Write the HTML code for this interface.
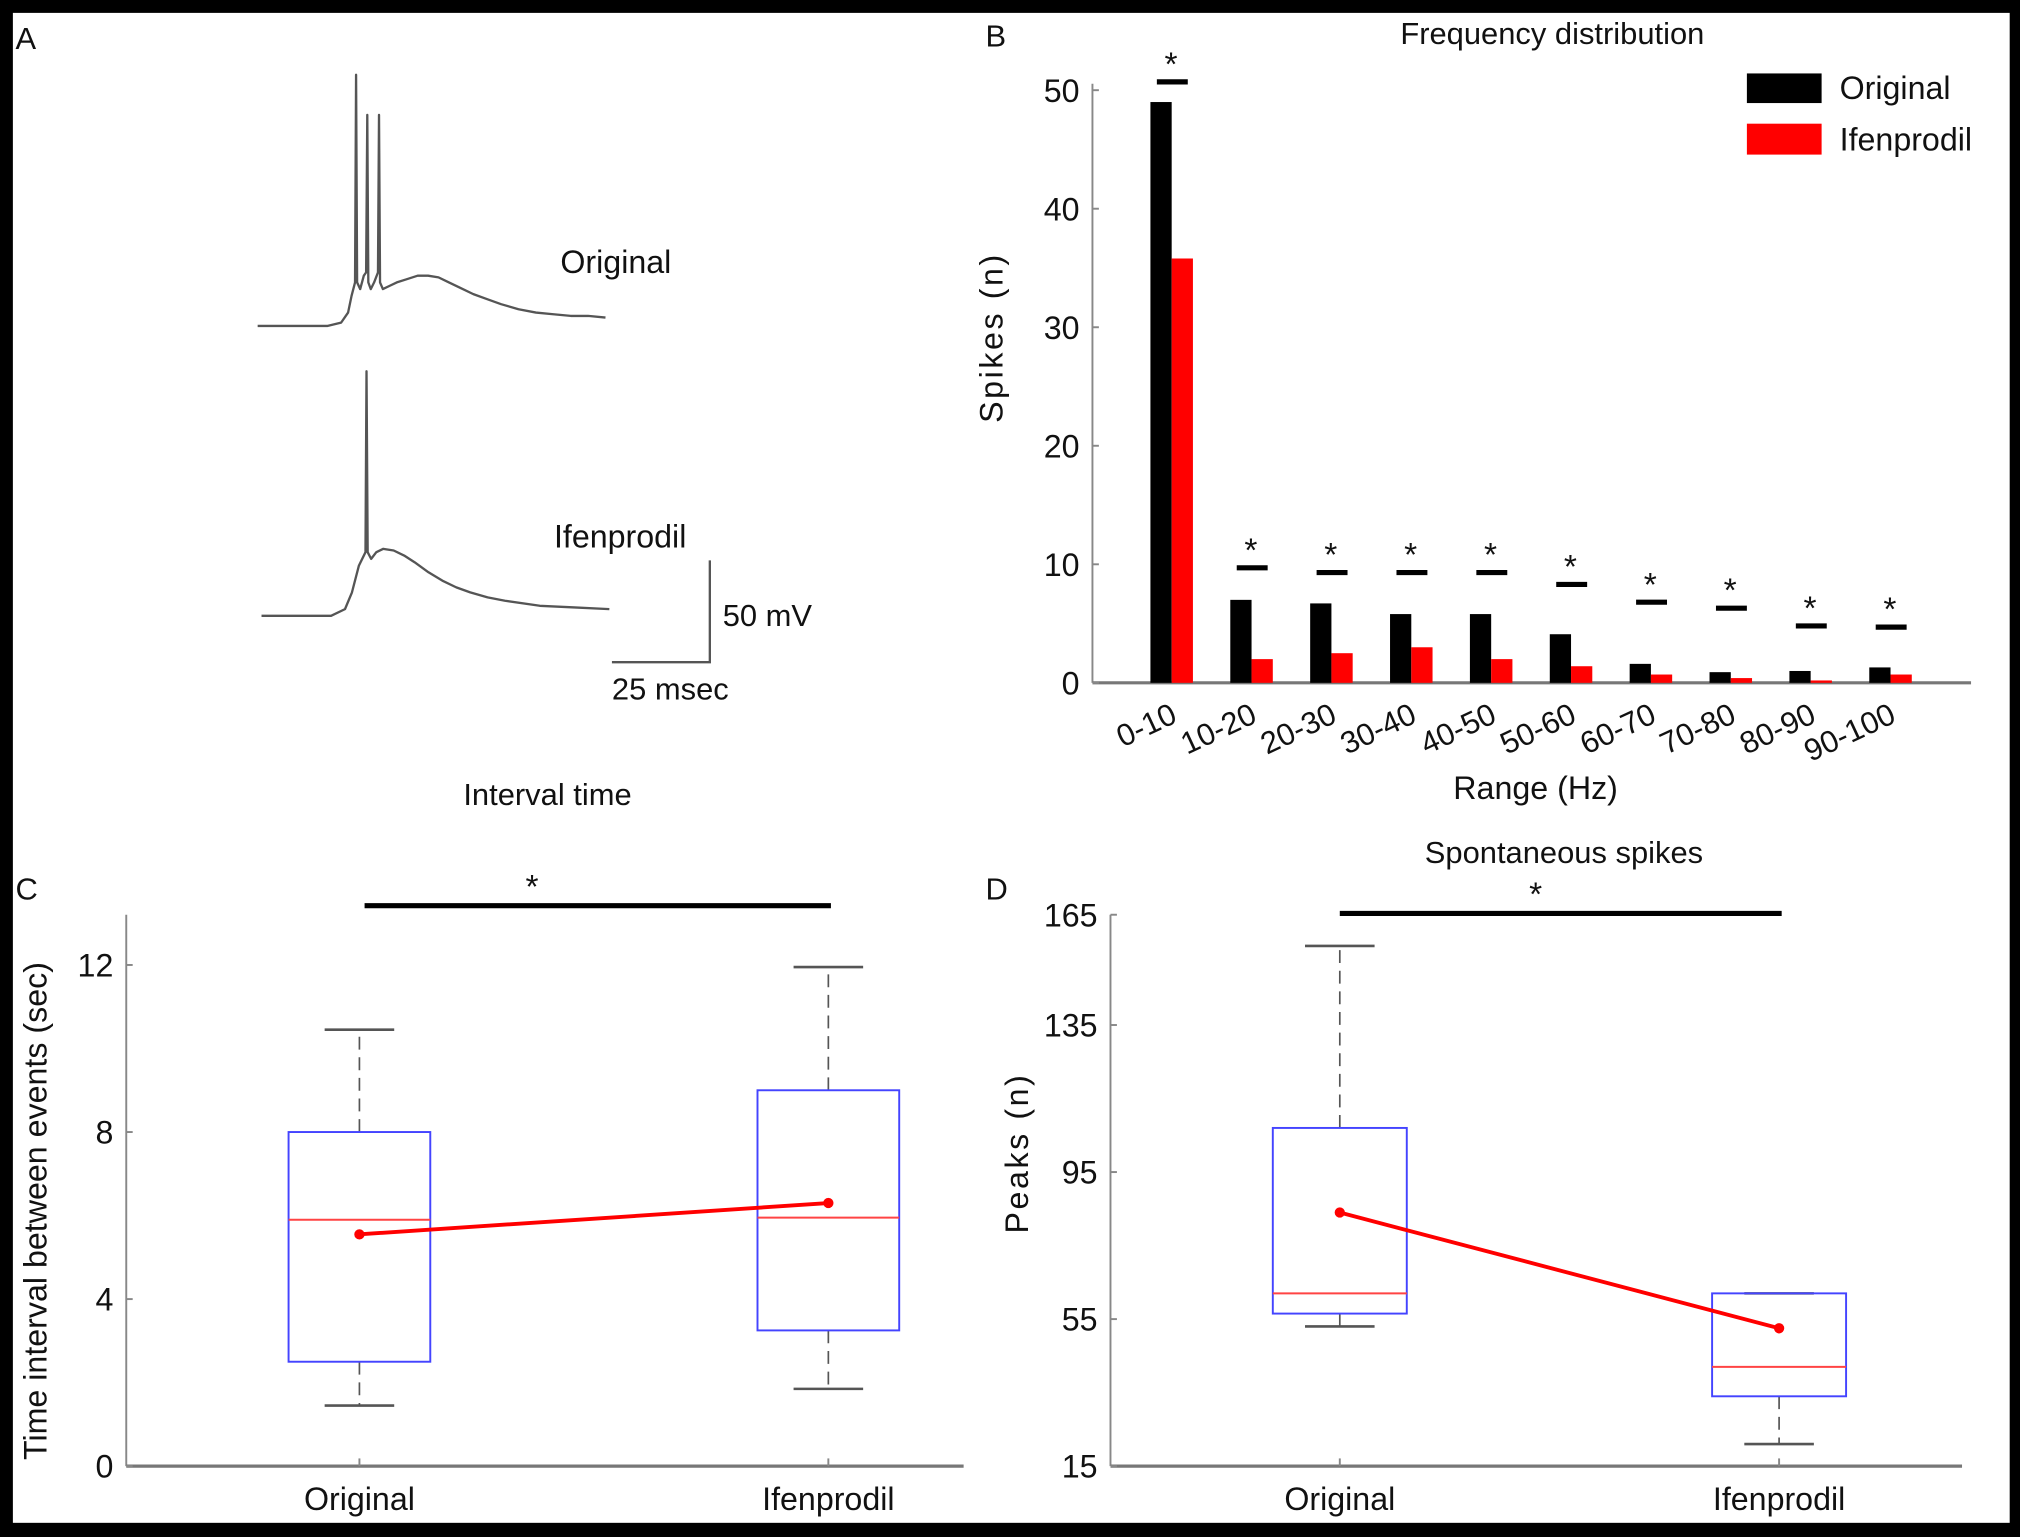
<!DOCTYPE html>
<html><head><meta charset="utf-8">
<style>
html,body{margin:0;padding:0;background:#000;}
svg{display:block;}
text{font-family:"Liberation Sans Narrow","Liberation Sans",sans-serif;fill:#111;}
</style></head>
<body>
<svg id="fig" width="2020" height="1537" viewBox="0 0 1568 1193" preserveAspectRatio="none" xmlns="http://www.w3.org/2000/svg">
<rect x="10" y="10" width="1550" height="1172" fill="#fff"/>
<g id="gA"></g>
<g id="gB"></g>
<g id="gC"></g>
<g id="gD"></g>
</svg>
<script>
// ---------- Panel B data ----------
const bCategories = ["0-10","10-20","20-30","30-40","40-50","50-60","60-70","70-80","80-90","90-100"];
const bOriginal = [49,7,6.7,5.8,5.8,4.1,1.6,0.9,1.0,1.3];
const bIfenprodil = [35.8,2,2.5,3.0,2,1.4,0.7,0.4,0.2,0.7];
const bSigLevel = [50.7,9.7,9.3,9.3,9.3,8.3,6.8,6.3,4.8,4.7];
const bTicks = [0,10,20,30,40,50];
// ---------- Panel C data ----------
const cGroups = ["Original","Ifenprodil"];
const cWhiskerLow = [1.45,1.85];
const cQ1 = [2.5,3.25];
const cMedian = [5.9,5.95];
const cQ3 = [8.0,9.0];
const cWhiskerHigh = [10.45,11.95];
const cMean = [5.55,6.3];
const cTicks = [0,4,8,12];
// ---------- Panel D data ----------
const dGroups = ["Original","Ifenprodil"];
const dWhiskerLow = [53,21];
const dQ1 = [56.5,34];
const dMedian = [62,42];
const dQ3 = [107,62];
const dWhiskerHigh = [156.5,62];
const dMean = [84,52.5];
const dTicks = [15,55,95,135,165];
// ---------- Panel A traces (time ms, voltage mV) ----------
const origT = [0,20,24,26,27,28,28.3,28.6,29.5,30.5,31.2,31.5,31.8,32.5,33.5,34.6,34.9,35.2,36,38,40,43,46,49,52,55,58,62,66,70,75,80,85,90,95,100];
const origV = [0,0,1,4,9,13,75,13,11,15,16,63,13,11,13,16,63,13,11,12,13,14,15,15,14.5,13,11.5,9.5,8,6.5,5,4,3.5,3,3,2.5];
const ifenT = [0,20,24,26,28,29.9,30.2,30.5,31.5,33,35,38,41,44,48,52,56,60,65,70,80,90,100];
const ifenV = [0,0,2,7,15,19,73,19,17,19,20,19.5,18,16,13,10.5,8.5,7,5.5,4.5,3,2.5,2];

const NS="http://www.w3.org/2000/svg";
function mk(parent,tag,attrs,txt){const e=document.createElementNS(NS,tag);for(const k in attrs)e.setAttribute(k,attrs[k]);if(txt!==undefined)e.textContent=txt;parent.appendChild(e);return e;}

// ===== Panel A =====
(function(){
const g=document.getElementById('gA');
let t=mk(g,'text',{x:12,y:38,'font-size':24},'A');


function trace(T,V,x0,y0,name){
  const sx=2.7, sy=2.6;
  const d=T.map((tt,i)=>(i?'L':'M')+(x0+tt*sx).toFixed(1)+','+(y0-V[i]*sy).toFixed(1)).join('');
  const p=mk(g,'path',{d:d,fill:'none',stroke:'#555','stroke-width':1.8,'stroke-linejoin':'round'});
  
  
}
trace(origT,origV,200,253,'original-trace');
trace(ifenT,ifenV,203,478,'ifenprodil-trace');
t=mk(g,'text',{x:435,y:212,'font-size':25},'Original');


t=mk(g,'text',{x:430,y:425,'font-size':25},'Ifenprodil');


let p=mk(g,'path',{d:'M551,435 L551,514 L475,514',fill:'none',stroke:'#555','stroke-width':1.8});


t=mk(g,'text',{x:561,y:486,'font-size':24},'50 mV');


t=mk(g,'text',{x:475,y:543,'font-size':24},'25 msec');


})();

// ===== Panel B =====
(function(){
const g=document.getElementById('gB');
const x0=848,x1=1530,yBase=530,yTop=70,vMax=50;
const y=v=>yBase-(v/vMax)*(yBase-yTop);
const step=62, c0=910, bw=16.5;
const cx=i=>c0+i*step;
let t=mk(g,'text',{x:765,y:36,'font-size':24},'B');


t=mk(g,'text',{x:1205,y:34,'font-size':24,'text-anchor':'middle'},'Frequency distribution');


let l=mk(g,'line',{x1:x0,y1:yTop-5,x2:x0,y2:yBase,stroke:'#888','stroke-width':1.5});


l=mk(g,'line',{x1:x0,y1:yBase,x2:x1,y2:yBase,stroke:'#777','stroke-width':2.5});


bTicks.forEach(v=>{
  const tk=mk(g,'line',{x1:x0,y1:y(v),x2:x0+5,y2:y(v),stroke:'#888','stroke-width':1.5});
  
  
  const tl=mk(g,'text',{x:x0-10,y:y(v)+9,'font-size':25,'text-anchor':'end'},String(v));
  
  
});
bCategories.forEach((c,i)=>{
  let r=mk(g,'rect',{x:cx(i)-bw-0.5,y:y(bOriginal[i]),width:bw,height:yBase-y(bOriginal[i]),fill:'#000'});
  
  
  r=mk(g,'rect',{x:cx(i)-0.5,y:y(bIfenprodil[i]),width:bw,height:yBase-y(bIfenprodil[i]),fill:'#f00'});
  
  
  const sy=y(bSigLevel[i]);
  r=mk(g,'line',{x1:cx(i)-12,y1:sy,x2:cx(i)+12,y2:sy,stroke:'#000','stroke-width':4});
  
  
  r=mk(g,'text',{x:cx(i)-1,y:sy-5,'font-size':26,'text-anchor':'middle'},'*');
  
  
  r=mk(g,'text',{x:cx(i)+5,y:yBase+30,'font-size':24,'text-anchor':'end',transform:'rotate(-25 '+(cx(i)+5)+' '+(yBase+30)+')'},c);
  
  
});
t=mk(g,'text',{x:1192,y:620,'font-size':25,'text-anchor':'middle'},'Range (Hz)');


t=mk(g,'text',{x:778,y:262,'font-size':25,'text-anchor':'middle','letter-spacing':2,transform:'rotate(-90 778 262)'},'Spikes (n)');


let r=mk(g,'rect',{x:1356,y:57,width:58,height:23,fill:'#000'});


r=mk(g,'rect',{x:1356,y:96,width:58,height:24,fill:'#f00'});


t=mk(g,'text',{x:1428,y:77,'font-size':25},'Original');


t=mk(g,'text',{x:1428,y:117,'font-size':25},'Ifenprodil');


})();

// ===== Box plot panels =====
function boxPanel(gid,opt){
const g=document.getElementById(gid);
const {x0,x1,yBase,yTopAxis,vMin,vMax,yAtMax,centers,half,groups,wl,q1,med,q3,wh,mean,ticks}=opt;
const y=v=>yBase-(v-vMin)/(vMax-vMin)*(yBase-yAtMax);
let t=mk(g,'text',{x:opt.labelX,y:698,'font-size':24},opt.letter);


t=mk(g,'text',{x:opt.titleX,y:opt.titleY,'font-size':24,'text-anchor':'middle'},opt.title);


let l=mk(g,'line',{x1:x0,y1:yTopAxis,x2:x0,y2:yBase,stroke:'#888','stroke-width':1.5});


l=mk(g,'line',{x1:x0,y1:yBase,x2:x1,y2:yBase,stroke:'#777','stroke-width':2.5});


ticks.forEach(v=>{
  const tk=mk(g,'line',{x1:x0,y1:y(v),x2:x0+5,y2:y(v),stroke:'#888','stroke-width':1.5});
  
  
  const tl=mk(g,'text',{x:x0-10,y:y(v)+9,'font-size':25,'text-anchor':'end'},String(v));
  
  
});
groups.forEach((gn,i)=>{
  const c=centers[i];
  let e=mk(g,'line',{x1:c,y1:y(q3[i]),x2:c,y2:y(wh[i]),stroke:'#555','stroke-width':1.3,'stroke-dasharray':'10,6'});
  
  
  e=mk(g,'line',{x1:c,y1:y(q1[i]),x2:c,y2:y(wl[i]),stroke:'#555','stroke-width':1.3,'stroke-dasharray':'10,6'});
  
  
  [wh[i],wl[i]].forEach(v=>{
    const cap=mk(g,'line',{x1:c-27,y1:y(v),x2:c+27,y2:y(v),stroke:'#555','stroke-width':2});
    
    
  });
  e=mk(g,'rect',{x:c-half,y:y(q3[i]),width:2*half,height:y(q1[i])-y(q3[i]),fill:'none',stroke:'#44f','stroke-width':1.5});
  
  
  e=mk(g,'line',{x1:c-half,y1:y(med[i]),x2:c+half,y2:y(med[i]),stroke:'#f44','stroke-width':1.5});
  
  
  e=mk(g,'line',{x1:c,y1:yBase,x2:c,y2:yBase-6,stroke:'#888','stroke-width':1.5});
  
  
  e=mk(g,'text',{x:c,y:1172,'font-size':25,'text-anchor':'middle'},gn);
  
  
});
let ml=mk(g,'line',{x1:centers[0],y1:y(mean[0]),x2:centers[1],y2:y(mean[1]),stroke:'#f00','stroke-width':3});


mean.forEach((m,i)=>{
  const d=mk(g,'circle',{cx:centers[i],cy:y(m),r:4,fill:'#f00'});
  
  
});
let s=mk(g,'line',{x1:opt.sigX1,y1:opt.sigY,x2:opt.sigX2,y2:opt.sigY,stroke:'#000','stroke-width':4});


s=mk(g,'text',{x:opt.starX,y:opt.sigY-6,'font-size':26,'text-anchor':'middle'},'*');


s=mk(g,'text',{x:opt.yTitleX,y:opt.yTitleY,'font-size':opt.yTitleSize,'text-anchor':'middle','letter-spacing':opt.yTitleLS,transform:'rotate(-90 '+opt.yTitleX+' '+opt.yTitleY+')'},opt.yTitle);


}
boxPanel('gC',{x0:98,x1:748,yBase:1138,yTopAxis:710,vMin:0,vMax:12,yAtMax:749,centers:[279,643],half:55,
 groups:cGroups,wl:cWhiskerLow,q1:cQ1,med:cMedian,q3:cQ3,wh:cWhiskerHigh,mean:cMean,ticks:cTicks,
 letter:'C',labelX:12,title:'Interval time',titleX:425,titleY:625,sigX1:283,sigX2:645,sigY:703,starX:413,
 yTitle:'Time interval between events (sec)',yTitleX:36,yTitleY:940,yTitleSize:25,yTitleLS:0});
boxPanel('gD',{x0:862,x1:1523,yBase:1138,yTopAxis:710,vMin:15,vMax:165,yAtMax:710,centers:[1040,1381],half:52,
 groups:dGroups,wl:dWhiskerLow,q1:dQ1,med:dMedian,q3:dQ3,wh:dWhiskerHigh,mean:dMean,ticks:dTicks,
 letter:'D',labelX:765,title:'Spontaneous spikes',titleX:1214,titleY:670,sigX1:1040,sigX2:1383,sigY:709,starX:1192,
 yTitle:'Peaks (n)',yTitleX:798,yTitleY:895,yTitleSize:25,yTitleLS:2});
</script>
</body></html>
